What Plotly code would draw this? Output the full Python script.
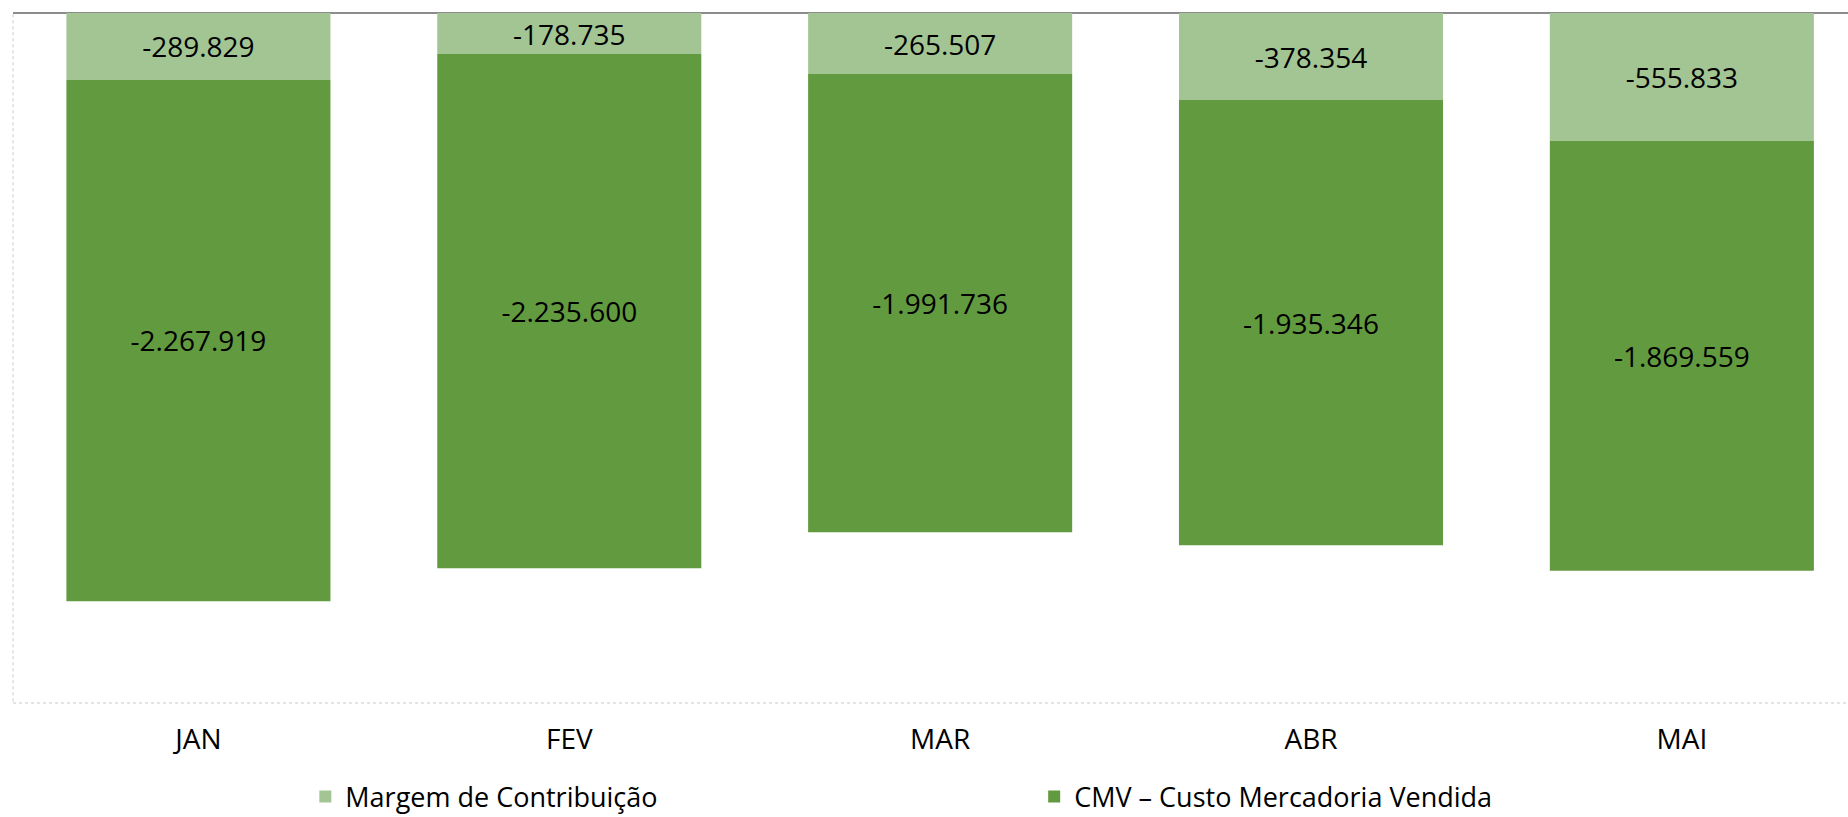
import plotly.graph_objects as go

months = ["JAN", "FEV", "MAR", "ABR", "MAI"]
margem = [-289829, -178735, -265507, -378354, -555833]
cmv = [-2267919, -2235600, -1991736, -1935346, -1869559]

FONT = "Open Sans"
LIGHT = "#A3C593"
DARK = "#629A3F"

W, H = 1848, 817
L, T, B = 12.6, 12.5, 114
PW = W - L

fig = go.Figure()
fig.add_trace(go.Bar(
    x=months, y=margem, name="Margem de Contribuição",
    marker=dict(color=LIGHT, line=dict(width=0)),
    texttemplate="%{y:,.0f}", textposition="inside", insidetextanchor="middle",
    textangle=0, constraintext="none",
    textfont=dict(family=FONT, size=28, color="#000000"),
    legend="legend",
))
fig.add_trace(go.Bar(
    x=months, y=cmv, name="CMV – Custo Mercadoria Vendida",
    marker=dict(color=DARK, line=dict(width=0)),
    texttemplate="%{y:,.0f}", textposition="inside", insidetextanchor="middle",
    textangle=0, constraintext="none",
    textfont=dict(family=FONT, size=28, color="#000000"),
    legend="legend2",
))

leg_y = (H - 797) / H

fig.update_layout(
    width=W, height=H,
    margin=dict(l=L, r=0, t=T, b=B, pad=0),
    showlegend=True,
    barmode="relative",
    bargap=0.288,
    separators=",.",
    plot_bgcolor="white", paper_bgcolor="white",
    font=dict(family=FONT, size=25, color="#000000"),
    xaxis=dict(
        range=[-0.5, 4.448], showgrid=False, showline=False, ticks="",
        tickfont=dict(family=FONT, size=28, color="#000000"),
        ticklabelstandoff=17,
    ),
    yaxis=dict(
        range=[-3000000, 0], showgrid=False, showticklabels=False,
        zeroline=True, zerolinecolor="#8C8C8C", zerolinewidth=1.5,
        showline=False, ticks="",
    ),
    legend=dict(
        orientation="h", x=(305 - L) / PW, xanchor="left", xref="paper",
        y=leg_y, yanchor="middle", yref="container",
        font=dict(family=FONT, size=27, color="#000000"),
        bgcolor="rgba(0,0,0,0)",
    ),
    legend2=dict(
        orientation="h", x=(1034 - L) / PW, xanchor="left", xref="paper",
        y=leg_y, yanchor="middle", yref="container",
        font=dict(family=FONT, size=27, color="#000000"),
        bgcolor="rgba(0,0,0,0)",
    ),
    shapes=[
        dict(type="rect", xref="paper", yref="paper", x0=0, x1=1.01, y0=0, y1=1,
             line=dict(color="#C8C8C8", width=1, dash="dot"), layer="below"),
    ],
)

fig.write_html(
    "out.html",
    config={"displayModeBar": False},
    post_script="document.body.style.margin='0';document.body.style.overflow='hidden';",
)
